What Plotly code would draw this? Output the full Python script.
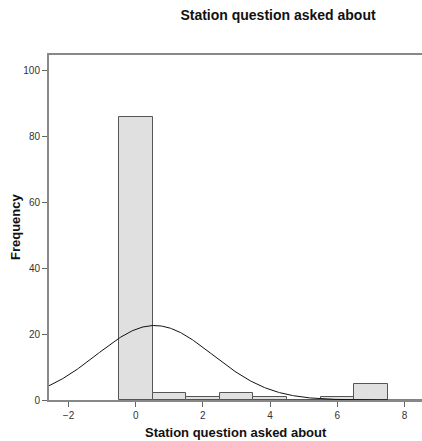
import numpy as np
import plotly.graph_objects as go

# Histogram counts for each station value (bin width 1)
stations = [0, 1, 2, 3, 4, 5, 6, 7]
frequency = [86, 2, 1, 2, 1, 0, 1, 5]
x_ticks = [-2, 0, 2, 4, 6, 8]
y_ticks = [0, 20, 40, 60, 80, 100]

title_text = "Station question asked about"
x_title = "Station question asked about"
y_title = "Frequency"

# Normal curve fitted to the same data
vals = np.repeat(stations, frequency)
n = vals.size
mean = vals.mean()
sd = vals.std(ddof=1)
xs = np.linspace(-3, 9, 400)
ys = n * 1.0 / (sd * np.sqrt(2 * np.pi)) * np.exp(-0.5 * ((xs - mean) / sd) ** 2)

FONT = "Liberation Sans, Arial, sans-serif"

fig = go.Figure()
fig.add_trace(go.Bar(
    x=stations, y=frequency, width=1,
    marker=dict(color="#e0e0e0", line=dict(color="#555555", width=1)),
    hoverinfo="x+y",
))
fig.add_trace(go.Scatter(
    x=xs, y=ys, mode="lines",
    line=dict(color="#111111", width=1),
    hoverinfo="skip",
))

axis_font = dict(family=FONT, size=10, color="#333333")

# plot area: left 49, top 55, bottom 400 (pixels)
plot_w = 422 - 49
plot_h = 441 - 55 - 41

fig.update_layout(
    width=422, height=441,
    margin=dict(l=49, r=0, t=55, b=41),
    paper_bgcolor="white", plot_bgcolor="white",
    showlegend=False,
    bargap=0,
    title=dict(
        text="<b>" + title_text + "</b>", x=278 / 422, xref="container", xanchor="center",
        y=1 - 15 / 441, yref="container", yanchor="middle",
        font=dict(family=FONT, size=14, color="#111111"),
    ),
    xaxis=dict(
        range=[-2.58, 8.52], tickvals=x_ticks, ticks="outside", ticklen=5,
        tickcolor="#666666", tickfont=axis_font, showgrid=False, zeroline=False,
        showline=True, linecolor="#888888", linewidth=2, mirror=True,
    ),
    yaxis=dict(
        range=[0, 104.7], tickvals=y_ticks, ticks="outside", ticklen=5,
        tickcolor="#666666", tickfont=axis_font, showgrid=False, zeroline=False,
        showline=True, linecolor="#888888", linewidth=2,
    ),
    annotations=[
        dict(text="<b>" + x_title + "</b>", xref="paper", yref="paper",
             x=(236 - 49) / plot_w, y=-(432 - 400) / plot_h,
             xanchor="center", yanchor="middle", showarrow=False,
             font=dict(family=FONT, size=13, color="#111111")),
        dict(text="<b>" + y_title + "</b>", xref="paper", yref="paper",
             x=(15 - 49) / plot_w, y=(400 - 227) / plot_h,
             xanchor="center", yanchor="middle", textangle=-90, showarrow=False,
             font=dict(family=FONT, size=13, color="#111111")),
    ],
)

fig.write_html("out.html")
